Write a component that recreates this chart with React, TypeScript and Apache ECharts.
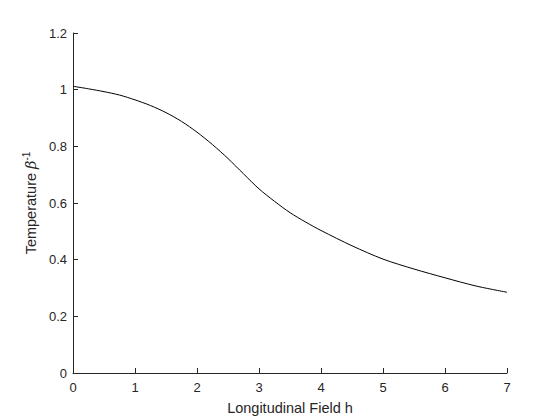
import React, { useEffect, useRef } from "react";
import * as echarts from "echarts";

const fieldH = [0, 0.25, 0.5, 0.75, 1, 1.25, 1.5, 1.75, 2, 2.25, 2.5, 2.75, 3, 3.25, 3.5, 3.75, 4, 4.5, 5, 5.5, 6, 6.5, 7];
const temperature = [1.012, 1.003, 0.993, 0.981, 0.964, 0.944, 0.919, 0.888, 0.85, 0.806, 0.757, 0.703, 0.65, 0.606, 0.566, 0.533, 0.503, 0.449, 0.402, 0.367, 0.336, 0.307, 0.285];
const xTicks = [0, 1, 2, 3, 4, 5, 6, 7];
const yTicks = [0, 0.2, 0.4, 0.6, 0.8, 1, 1.2];

export default function App() {
  const ref = useRef<HTMLDivElement>(null);
  useEffect(() => {
    if (!ref.current) return;
    const chart = echarts.init(ref.current, undefined, { renderer: "svg" });
    const font = "Liberation Sans, Arial, Helvetica, sans-serif";
    chart.setOption({
      animation: false,
      backgroundColor: "#ffffff",
      grid: { left: 73, right: 53, top: 33, bottom: 47, containLabel: false },
      xAxis: {
        type: "value",
        min: xTicks[0],
        max: xTicks[xTicks.length - 1],
        interval: 1,
        name: "Longitudinal Field h",
        nameLocation: "middle",
        nameGap: 27,
        nameTextStyle: { color: "#262626", fontSize: 14.5, fontFamily: font },
        axisLine: { lineStyle: { color: "#262626", width: 1 } },
        axisTick: { inside: true, length: 5, lineStyle: { color: "#262626" } },
        axisLabel: { color: "#262626", fontSize: 13, fontFamily: font, margin: 8 },
        splitLine: { show: false },
      },
      yAxis: {
        type: "value",
        min: yTicks[0],
        max: yTicks[yTicks.length - 1],
        interval: 0.2,
        name: "Temperature {b|β}{s|-1}",
        nameLocation: "middle",
        nameGap: 31,
        nameRotate: 90,
        nameTextStyle: {
          color: "#262626",
          fontSize: 14.5,
          fontFamily: font,
          rich: {
            b: { fontSize: 14.5, fontStyle: "italic", fontFamily: "DejaVu Serif, serif", color: "#262626" },
            s: { fontSize: 10, fontFamily: font, color: "#262626", padding: [0, 0, 9, 0] },
          },
        },
        axisLine: { show: true, lineStyle: { color: "#262626", width: 1 } },
        axisTick: { show: true, inside: true, length: 5, lineStyle: { color: "#262626" } },
        axisLabel: {
          color: "#262626",
          fontSize: 13,
          fontFamily: font,
          margin: 6,
          formatter: (v: number) => String(Math.round(v * 10) / 10),
        },
        splitLine: { show: false },
      },
      series: [
        {
          type: "line",
          data: fieldH.map((h, i) => [h, temperature[i]]),
          smooth: 0.3,
          showSymbol: false,
          lineStyle: { color: "#000000", width: 1 },
        },
      ],
    });
    return () => chart.dispose();
  }, []);
  return <div ref={ref} style={{ width: 560, height: 420, position: "absolute", left: 0, top: 0 }} />;
}
